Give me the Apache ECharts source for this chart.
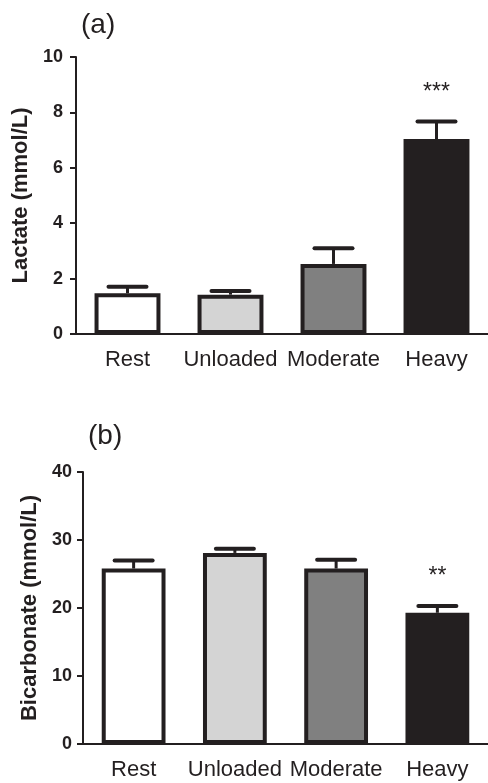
<!DOCTYPE html>
<html>
<head>
<meta charset="utf-8">
<script src="https://cdn.jsdelivr.net/npm/echarts@6/dist/echarts.min.js"></script>
<style>
html,body{margin:0;padding:0;background:#fff;}
#c{width:488px;height:783px;}
</style>
</head>
<body>
<div id="c"></div>
<script>
// ---- data ----
const categories = ['Rest', 'Unloaded', 'Moderate', 'Heavy'];
const barColors = ['#ffffff', '#d4d4d4', '#808080', '#231f20'];

const lactateMean = [1.47, 1.42, 2.53, 7.04];
const lactateErr = [0.24, 0.13, 0.57, 0.63];
const lactateSig = ['', '', '', '***'];
const lactateTicks = [0, 2, 4, 6, 8, 10];

const bicarbMean = [25.8, 28.1, 25.8, 19.3];
const bicarbErr = [1.2, 0.6, 1.3, 1.0];
const bicarbSig = ['', '', '', '**'];
const bicarbTicks = [0, 10, 20, 30, 40];

const INK = '#231f20';
const FONT = 'Liberation Sans, Arial, Helvetica, sans-serif';

function errorSeries(idx, means, errs, sigs) {
  return {
    type: 'custom',
    xAxisIndex: idx, yAxisIndex: idx,
    z: 1,
    data: means.map((m, i) => [i, m + errs[i], m]),
    renderItem: function (params, api) {
      const i = api.value(0);
      const top = api.coord([i, api.value(1)]);
      const base = api.coord([i, api.value(2)]);
      const half = 19;
      const children = [
        { type: 'line', shape: { x1: top[0], y1: base[1], x2: top[0], y2: top[1] },
          style: { stroke: INK, lineWidth: 3 } },
        { type: 'line', shape: { x1: top[0] - half, y1: top[1], x2: top[0] + half, y2: top[1] },
          style: { stroke: INK, lineWidth: 4, lineCap: 'round' } }
      ];
      const s = sigs[params.dataIndex];
      if (s) {
        children.push({ type: 'text', x: top[0], y: top[1] - 29,
          style: { text: s, fill: INK, font: '23px ' + FONT, align: 'center', verticalAlign: 'middle' } });
      }
      return { type: 'group', children: children };
    }
  };
}

function barSeries(idx, means) {
  return {
    type: 'bar',
    xAxisIndex: idx, yAxisIndex: idx,
    z: 2,
    barWidth: idx === 0 ? '64%' : '63%',
    data: means.map((v, i) => ({ value: v, itemStyle: { color: barColors[i] } })),
    itemStyle: { borderColor: INK, borderWidth: 4 },
    silent: true
  };
}

function yAxis(idx, name, ticks, gap, margin) {
  const step = ticks[1] - ticks[0];
  return {
    gridIndex: idx, type: 'value',
    min: ticks[0], max: ticks[ticks.length - 1], interval: step,
    name: name, nameLocation: 'middle', nameGap: gap, nameRotate: 90,
    nameTextStyle: { fontFamily: FONT, fontWeight: 'bold', fontSize: 22, color: INK },
    axisLine: { show: true, lineStyle: { color: INK, width: 2 } },
    axisTick: { show: true, length: 6, lineStyle: { color: INK, width: 2 } },
    axisLabel: { fontFamily: FONT, fontWeight: 'bold', fontSize: 18, color: INK, margin: margin },
    splitLine: { show: false }
  };
}

function xAxis(idx) {
  return {
    gridIndex: idx, type: 'category', data: categories,
    axisLine: { show: true, lineStyle: { color: INK, width: 2 } },
    axisTick: { show: false },
    axisLabel: { fontFamily: FONT, fontSize: 22, color: INK, margin: 15, interval: 0 }
  };
}

const chart = echarts.init(document.getElementById('c'), null, { renderer: 'canvas' });
chart.setOption({
  backgroundColor: '#ffffff',
  animation: false,
  title: [
    { text: '(a)', left: 76, top: 6, textStyle: { fontFamily: FONT, fontWeight: 'normal', fontSize: 28, color: INK } },
    { text: '(b)', left: 83, top: 417, textStyle: { fontFamily: FONT, fontWeight: 'normal', fontSize: 28, color: INK } }
  ],
  grid: [
    { left: 76, right: 0, top: 57, bottom: 449 },
    { left: 83, right: 0, top: 472, bottom: 39 }
  ],
  xAxis: [xAxis(0), xAxis(1)],
  yAxis: [
    yAxis(0, 'Lactate (mmol/L)', lactateTicks, 44, 13),
    yAxis(1, 'Bicarbonate (mmol/L)', bicarbTicks, 41, 11)
  ],
  series: [
    errorSeries(0, lactateMean, lactateErr, lactateSig),
    barSeries(0, lactateMean),
    errorSeries(1, bicarbMean, bicarbErr, bicarbSig),
    barSeries(1, bicarbMean)
  ]
});
</script>
</body>
</html>
